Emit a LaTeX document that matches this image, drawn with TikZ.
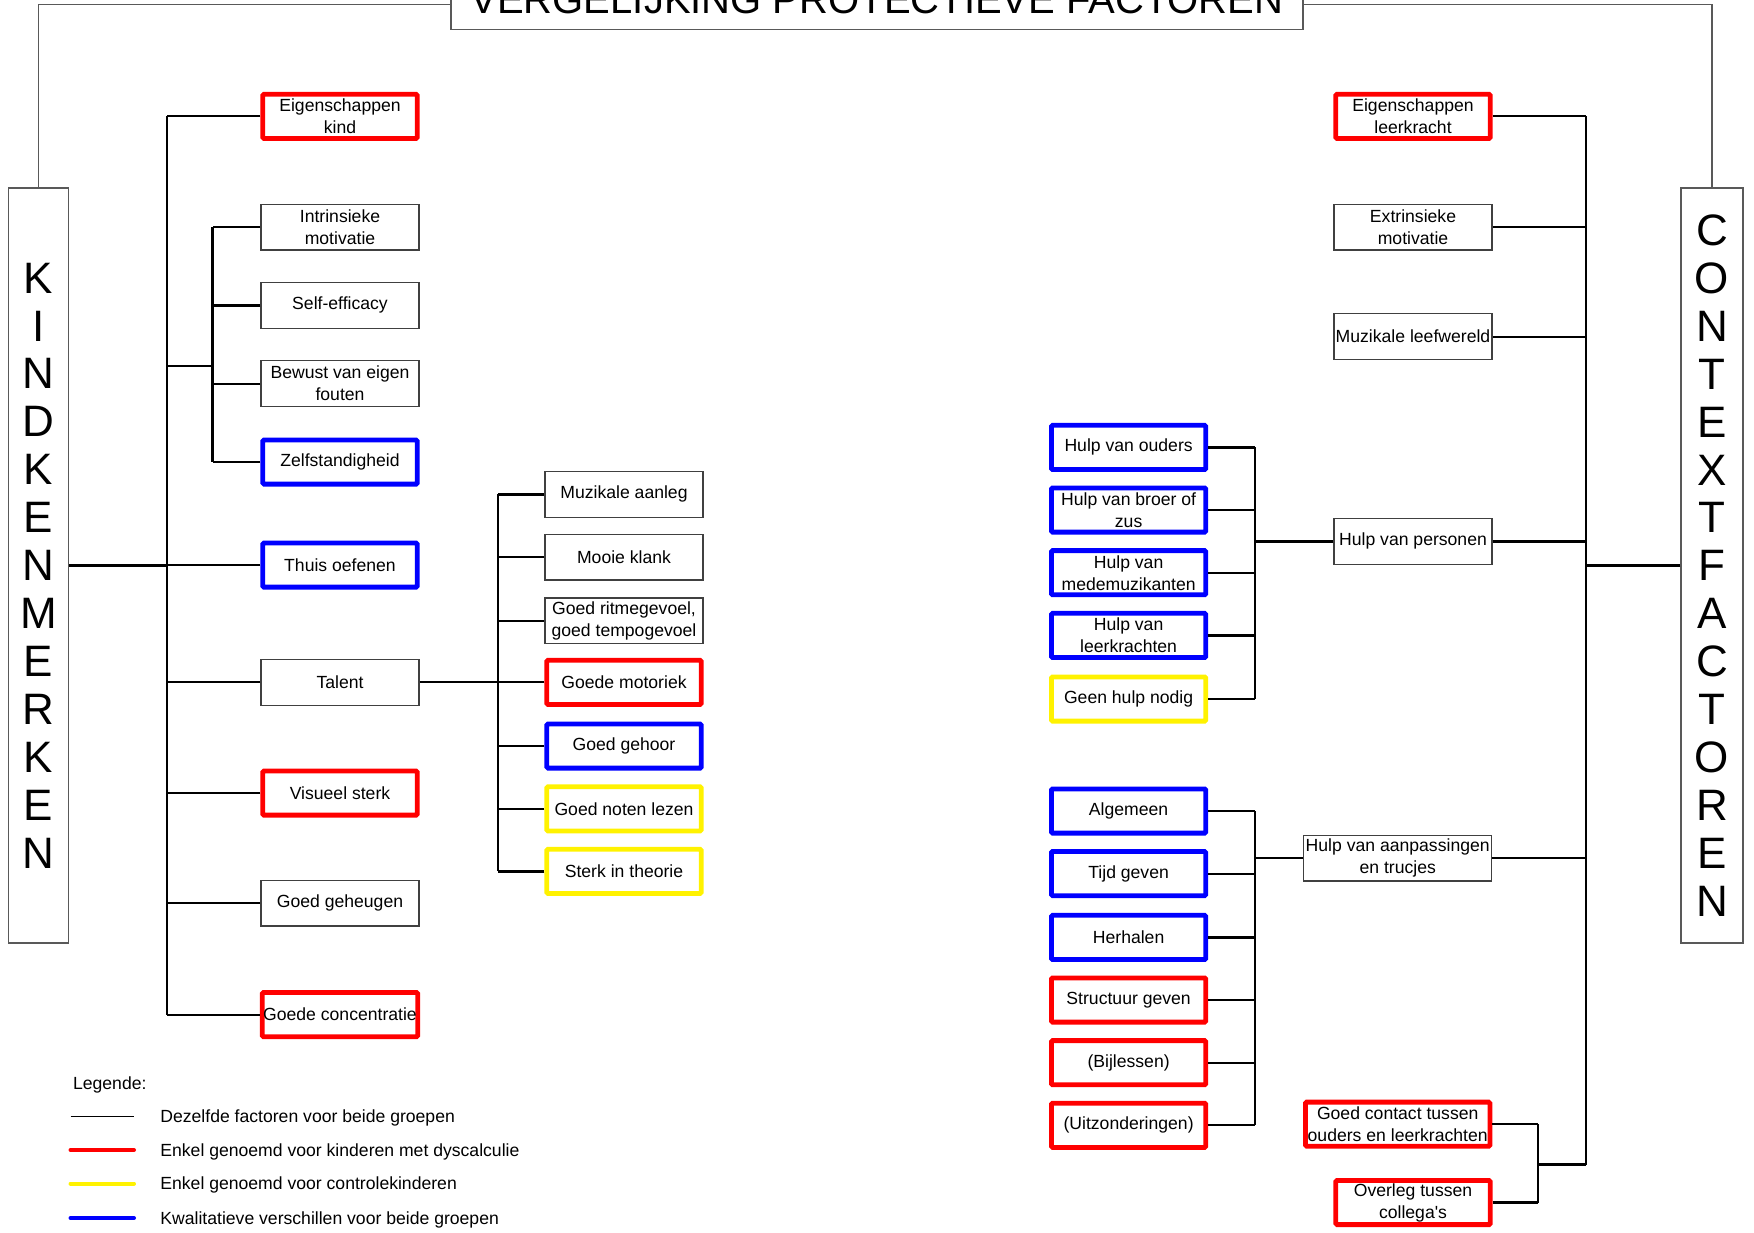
\documentclass[tikz,border=0pt]{standalone}
\usepackage{fontspec}
\setmainfont{Liberation Sans}
\tikzset{
	factor/.style={draw=black!75, line width=0.6pt, minimum width=79pt, minimum height=22.9pt, inner sep=0.5pt, align=center, font=\fontsize{8.8}{11}\selectfont},
	kleur/.style={factor, line width=2.4pt, minimum width=77.2pt, minimum height=22.1pt, rounded corners=0.6pt},
	rood/.style={kleur, draw=red},
	blauw/.style={kleur, draw=blue},
	geel/.style={kleur, draw=yellow},
	kolom/.style={draw=black!65, line width=0.6pt, minimum width=30pt, minimum height=377.5pt, inner sep=0pt, align=center, font=\fontsize{22}{23.96}\selectfont},
	tak/.style={line width=1.1pt},
	lijn/.style={draw=black!65, line width=0.6pt},
	legtekst/.style={anchor=west, inner sep=0pt, text height=6.3pt, text depth=1.8pt, font=\fontsize{8.8}{11}\selectfont},
}

\begin{document}
\begin{tikzpicture}[x=0.5pt, y=-0.5pt]
		%%%%% START %%%%%
		\useasboundingbox (0,0) rectangle (1754,1232);
		
		% titel en de twee kolommen
		\node[lijn, minimum width=426pt, minimum height=30pt, anchor=south, font=\fontsize{20}{24}\selectfont, inner sep=0pt] (titel) at (877,30) {VERGELIJKING PROTECTIEVE FACTOREN};
		\node[kolom] (kind) at (38.5,565.5) {K\\I\\N\\D\\K\\E\\N\\M\\E\\R\\K\\E\\N};
		\node[kolom, minimum width=31pt] (context) at (1712,565.5) {C\\O\\N\\T\\E\\X\\T\\F\\A\\C\\T\\O\\R\\E\\N};
		\draw[lijn] ([yshift=-2.5pt]titel.west) -| (kind.north);
		\draw[lijn] ([yshift=-2.5pt]titel.east) -| (context.north);
		
		% kindkenmerken
		\node[rood] (eigk) at (340,116.3) {Eigenschappen\\kind};
		\node[factor] (intr) at (340,227) {Intrinsieke\\motivatie};
		\node[factor] (self) at (340,305.4) {Self-efficacy};
		\node[factor] (bewust) at (340,383.7) {Bewust van eigen\\fouten};
		\node[blauw] (zelf) at (340,462) {Zelfstandigheid};
		\node[blauw] (thuis) at (340,565) {Thuis oefenen};
		\node[factor] (talent) at (340,682.3) {Talent};
		\node[rood] (visueel) at (340,793) {Visueel sterk};
		\node[factor] (geheugen) at (340,903) {Goed geheugen};
		\node[rood] (concentratie) at (340,1014.6) {Goede concentratie};
		
		% talent
		\node[factor] (aanleg) at (624,494.4) {Muzikale aanleg};
		\node[factor] (klank) at (624,557) {Mooie klank};
		\node[factor] (ritme) at (624,620.8) {Goed ritmegevoel,\\goed tempogevoel};
		\node[rood] (motoriek) at (624,682.3) {Goede motoriek};
		\node[blauw] (gehoor) at (624,746) {Goed gehoor};
		\node[geel] (noten) at (624,808.8) {Goed noten lezen};
		\node[geel] (theorie) at (624,871.4) {Sterk in theorie};
		
		\coordinate (lbus) at (166.7,0);
		\coordinate (sbus) at (212.5,0);
		\coordinate (sj) at (212.5,366);
		\coordinate (tbus) at (497.8,0);
		\draw[tak] (kind.east) -- (kind.east -| lbus);
		\draw[tak] (eigk.west -| lbus) -- (concentratie.west -| lbus);
		\foreach \n in {eigk,thuis,talent,visueel,geheugen,concentratie}
			\draw[tak] (\n.west) -- (\n.west -| lbus);
		\draw[tak] (sj) -- (sj -| lbus);
		\draw[tak] (intr.west -| sbus) -- (zelf.west -| sbus);
		\foreach \n in {intr,self,bewust,zelf}
			\draw[tak] (\n.west) -- (\n.west -| sbus);
		\draw[tak] (talent.east) -- (talent.east -| tbus);
		\draw[tak] (aanleg.west -| tbus) -- (theorie.west -| tbus);
		\foreach \n in {aanleg,klank,ritme,motoriek,gehoor,noten,theorie}
			\draw[tak] (\n.west) -- (\n.west -| tbus);
		
		% contextfactoren
		\node[rood] (eigl) at (1413,116.3) {Eigenschappen\\leerkracht};
		\node[factor] (extr) at (1413,227) {Extrinsieke\\motivatie};
		\node[factor] (leef) at (1413,336.7) {Muzikale leefwereld};
		\node[factor] (personen) at (1413,541.4) {Hulp van personen};
		\node[factor, minimum width=94pt] (aanpas) at (1397.7,858) {Hulp van aanpassingen\\en trucjes};
		\node[rood, minimum width=92.2pt] (contact) at (1397.7,1124.2) {Goed contact tussen\\ouders en leerkrachten};
		\node[rood] (overleg) at (1413,1202.5) {Overleg tussen\\collega\textquotesingle s};
		
		% hulp van personen
		\node[blauw] (ouders) at (1128.6,447.4) {Hulp van ouders};
		\node[blauw] (broer) at (1128.6,510) {Hulp van broer of\\zus};
		\node[blauw] (mede) at (1128.6,572.7) {Hulp van\\medemuzikanten};
		\node[blauw] (leerkr) at (1128.6,635.4) {Hulp van\\leerkrachten};
		\node[geel] (geen) at (1128.6,699) {Geen hulp nodig};
		
		% hulp van aanpassingen
		\node[blauw] (algemeen) at (1128.6,811) {Algemeen};
		\node[blauw] (tijd) at (1128.6,873.6) {Tijd geven};
		\node[blauw] (herhalen) at (1128.6,937.4) {Herhalen};
		\node[rood] (structuur) at (1128.6,1000) {Structuur geven};
		\node[rood] (bijles) at (1128.6,1062.7) {(Bijlessen)};
		\node[rood] (uitz) at (1128.6,1125.3) {(Uitzonderingen)};
		
		\coordinate (rbus) at (1586.2,0);
		\coordinate (cbus) at (1538,0);
		\coordinate (cj) at (1538,1164.5);
		\coordinate (hbus) at (1255,0);
		\draw[tak] (context.west) -- (context.west -| rbus);
		\draw[tak] (eigl.east -| rbus) -- (cj -| rbus);
		\foreach \n in {eigl,extr,leef,personen,aanpas}
			\draw[tak] (\n.east) -- (\n.east -| rbus);
		\draw[tak] (cj) -- (cj -| rbus);
		\draw[tak] (contact.east -| cbus) -- (overleg.east -| cbus);
		\foreach \n in {contact,overleg}
			\draw[tak] (\n.east) -- (\n.east -| cbus);
		\draw[tak] (personen.west) -- (personen.west -| hbus);
		\draw[tak] (ouders.east -| hbus) -- (geen.east -| hbus);
		\foreach \n in {ouders,broer,mede,leerkr,geen}
			\draw[tak] (\n.east) -- (\n.east -| hbus);
		\draw[tak] (aanpas.west) -- (aanpas.west -| hbus);
		\draw[tak] (algemeen.east -| hbus) -- (uitz.east -| hbus);
		\foreach \n in {algemeen,tijd,herhalen,structuur,bijles,uitz}
			\draw[tak] (\n.east) -- (\n.east -| hbus);
		
		% legende
		\node[legtekst] (legende) at (72.7,1084.5) {Legende:};
		\node[legtekst] (leg1) at (160,1118.2) {Dezelfde factoren voor beide groepen};
		\node[legtekst] (leg2) at (160,1151.8) {Enkel genoemd voor kinderen met dyscalculie};
		\node[legtekst] (leg3) at (160,1185.3) {Enkel genoemd voor controlekinderen};
		\node[legtekst] (leg4) at (160,1219.8) {Kwalitatieve verschillen voor beide groepen};
		\draw[line width=0.65pt] (70.5,1116.4) -- (134,1116.4);
		\draw[line width=2pt, red, line cap=round] (70.5,1150) -- (134,1150);
		\draw[line width=2pt, yellow, line cap=round] (70.5,1183.5) -- (134,1183.5);
		\draw[line width=2pt, blue, line cap=round] (70.5,1218) -- (134,1218);
		
		%%%%% END %%%%%
	\end{tikzpicture}
\end{document}
